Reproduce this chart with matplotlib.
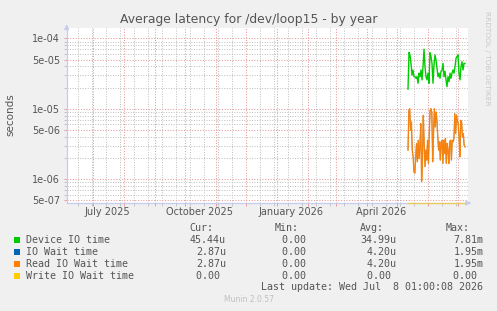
import numpy as np
import pandas as pd
import matplotlib
matplotlib.use("Agg")
import matplotlib.pyplot as plt
import matplotlib.dates as mdates
from matplotlib.patches import Rectangle

# ---------------- data ----------------
title = "Average latency for /dev/loop15 - by year"
ylabel = "seconds"

green_start = "2026-05-12"
device_io = [1.9e-5, 6.3e-5, 5.8e-5, 4.4e-5, 3.0e-5, 3.55e-5, 2.85e-5, 2.85e-5, 2.7e-5, 2.85e-5,
             2.3e-5, 3.2e-5, 2.85e-5, 3.55e-5, 2.57e-5, 3.95e-5, 7.0e-5, 3.95e-5, 2.85e-5, 2.57e-5,
             3.2e-5, 2.3e-5, 6.25e-5, 5.5e-5, 4.4e-5, 2.3e-5, 4.2e-5, 5.8e-5, 4.9e-5, 3.75e-5,
             2.85e-5, 3.2e-5, 2.7e-5, 3.4e-5, 3.55e-5, 4.4e-5, 2.85e-5, 3.4e-5, 2.57e-5, 2.06e-5,
             2.85e-5, 2.43e-5, 3.2e-5, 2.7e-5, 3.2e-5, 3.55e-5, 3.2e-5, 3.95e-5, 5.2e-5, 5.5e-5,
             5.8e-5, 3.2e-5, 2.57e-5, 3.95e-5, 4.66e-5, 3.55e-5, 4.4e-5, 4.4e-5]

read_io_us = [2.59, 9.47, 10.0, 4.95, 6.49, 2.59, 2.08, 1.28, 1.22, 1.97, 3.21, 1.77, 3.58, 1.97,
              2.88, 6.15, 0.93, 1.87, 8.06, 3.21, 1.51, 2.59, 1.87, 3.58, 1.68, 4.45, 9.47, 10.0,
              8.97, 1.77, 4.45, 10.0, 5.52, 8.97, 6.85, 3.99, 2.59, 3.39, 1.87, 3.39, 3.58, 1.68,
              3.58, 2.32, 3.78, 1.68, 3.21, 2.59, 1.68, 3.39, 3.58, 1.87, 3.58, 3.39, 3.78, 8.5,
              4.45, 8.06, 6.85, 6.15, 3.99, 2.08, 6.85, 6.49, 3.99, 4.45, 3.04, 2.88]
io_wait_us = list(read_io_us)
write_io = [0.0] * len(device_io)

x_start = "2025-06-04 16:00"
x_end = "2026-07-11 00:00"
month_labels = ["July 2025", "October 2025", "January 2026", "April 2026"]
month_label_dates = ["2025-07-15", "2025-10-15", "2026-01-15", "2026-04-15"]
minor_x_start = "2025-06-16"
ylim = (4.6e-7, 1.40e-4)
major_y = [5e-7, 1e-6, 5e-6, 1e-5, 5e-5, 1e-4]
major_y_labels = ["5e-07", "1e-06", "5e-06", "1e-05", "5e-05", "1e-04"]

legend_names = ["Device IO time", "IO Wait time", "Read IO Wait time", "Write IO Wait time"]
legend_colors = ["#00CC00", "#0066B3", "#FF8000", "#FFCC00"]
col_headers = ["Cur:", "Min:", "Avg:", "Max:"]
cur_vals = ["45.44u", "2.87u", "2.87u", "0.00 "]
min_vals = ["0.00 ", "0.00 ", "0.00 ", "0.00 "]
avg_vals = ["34.99u", "4.20u", "4.20u", "0.00 "]
max_vals = ["7.81m", "1.95m", "1.95m", "0.00 "]
last_update = "Last update: Wed Jul  8 01:00:08 2026"
footer = "Munin 2.0.57"
side_text = "RRDTOOL / TOBI OETIKER"

# ---------------- figure ----------------
W, H = 497, 311
fig = plt.figure(figsize=(W / 100, H / 100), dpi=100, facecolor="#F0F0F0")

def fx(x):
    return x / W

def fy(y):
    return 1 - y / H

L, R, T, B = 66.7, 468.0, 28.0, 203.0
ax = fig.add_axes([fx(L), fy(B), fx(R - L), (B - T) / H])
ax.set_facecolor("white")

t_green = pd.date_range(green_start, periods=len(device_io), freq="D")
t_orange = pd.to_datetime(np.linspace(t_green[0].value, t_green[-1].value, len(read_io_us)))

ax.set_yscale("log")
ax.set_ylim(*ylim)
ax.set_xlim(pd.Timestamp(x_start), pd.Timestamp(x_end))

major_c = "#E89A9A"
minor_c = "#BDBDBD"
dot = (0, (1, 1.6))

# y grid
ax.set_yticks(major_y)
ax.set_yticklabels(major_y_labels)
minor_y = [m * 10.0 ** e for e in range(-7, -3) for m in (2, 3, 4, 6, 7, 8, 9)]
minor_y = [v for v in minor_y if ylim[0] < v < ylim[1]]
ax.set_yticks(minor_y, minor=True)
ax.yaxis.set_minor_formatter(matplotlib.ticker.NullFormatter())

# x grid
month_starts = pd.date_range("2025-07-01", "2026-07-01", freq="MS")
ax.set_xticks(mdates.date2num(month_starts))
ax.set_xticklabels([""] * len(month_starts))
biweek = pd.date_range(minor_x_start, x_end, freq="14D")
ax.set_xticks(mdates.date2num(biweek), minor=True)

ax.grid(True, which="minor", color=minor_c, linestyle=dot, linewidth=0.7)
ax.grid(True, which="major", color=major_c, linestyle=dot, linewidth=0.75)
ax.set_axisbelow(True)

ax.tick_params(axis="y", which="major", length=2.2, width=0.7, color=major_c,
               labelsize=7, labelcolor="#555555", pad=2.5)
ax.tick_params(axis="y", which="minor", length=2.2, width=0.6, color=minor_c)
ax.tick_params(axis="x", which="major", length=2.2, width=0.7, color=major_c)
ax.tick_params(axis="x", which="minor", length=2.2, width=0.6, color=minor_c)

for lab, d in zip(month_labels, month_label_dates):
    ax.text(mdates.date2num(pd.Timestamp(d)), -(212.3 - B) / (B - T), lab,
            transform=ax.get_xaxis_transform(), ha="center", va="center",
            fontsize=7, color="#555555")

for s in ("top", "right"):
    ax.spines[s].set_visible(False)
axis_c = "#C6CCF0"
for s in ("left", "bottom"):
    ax.spines[s].set_color(axis_c)
    ax.spines[s].set_linewidth(0.9)

# series
ax.plot(t_green, device_io, color=legend_colors[0], linewidth=1.0, zorder=3)
ax.plot(t_orange, np.array(io_wait_us) * 1e-6, color=legend_colors[1], linewidth=0.6, alpha=0.6, zorder=3)
ax.plot(t_orange, np.array(read_io_us) * 1e-6, color=legend_colors[2], linewidth=1.0, alpha=0.92, zorder=4)
ax.plot(t_green, np.maximum(write_io, ylim[0]), color=legend_colors[3], linewidth=1.0,
        alpha=0.6, clip_on=False, zorder=5)

# arrows
ax.annotate("", xy=(fx(L), fy(21.5)), xytext=(fx(L), fy(T + 2)), xycoords="figure fraction",
            arrowprops=dict(arrowstyle="-|>", color=axis_c, lw=0.9, mutation_scale=7))
ax.annotate("", xy=(fx(474), fy(B)), xytext=(fx(R - 2), fy(B)), xycoords="figure fraction",
            arrowprops=dict(arrowstyle="-|>", color=axis_c, lw=0.9, mutation_scale=7))

# texts
fig.text(0.5, fy(20), title, ha="center", va="center", fontsize=8.9, color="#555555")
fig.text(fx(10.5), fy(115), ylabel, rotation=90, ha="center", va="center", fontsize=7.5, color="#555555")
fig.text(fx(487.5), fy(58), side_text, rotation=270, ha="center", va="center", fontsize=5.3, color="#C8C8C8")

mono = "DejaVu Sans Mono"
fs = 7.2
tc = "#555555"
row_y = [239.7, 251.7, 263.7, 275.7]
header_x = [213.3, 299.0, 384.0, 470.0]
val_x = [226.0, 311.7, 396.7, 483.3]
for hx, h in zip(header_x, col_headers):
    fig.text(fx(hx), fy(228.3), h, ha="right", va="center", fontsize=fs, family=mono, color=tc)
for i, y in enumerate(row_y):
    fig.add_artist(Rectangle((fx(14), fy(y + 3)), fx(6), 6 / H, transform=fig.transFigure,
                             facecolor=legend_colors[i], edgecolor="none"))
    fig.text(fx(26.3), fy(y), legend_names[i], ha="left", va="center", fontsize=fs, family=mono, color=tc)
    for vx, col in zip(val_x, (cur_vals, min_vals, avg_vals, max_vals)):
        fig.text(fx(vx), fy(y), col[i], ha="right", va="center", fontsize=fs, family=mono, color=tc)
fig.text(fx(483.3), fy(287.3), last_update, ha="right", va="center", fontsize=fs, family=mono, color=tc)
fig.text(0.5, fy(300), footer, ha="center", va="center", fontsize=5.5, color="#C0C0C0")

fig.savefig("out.png", dpi=100, facecolor=fig.get_facecolor())
